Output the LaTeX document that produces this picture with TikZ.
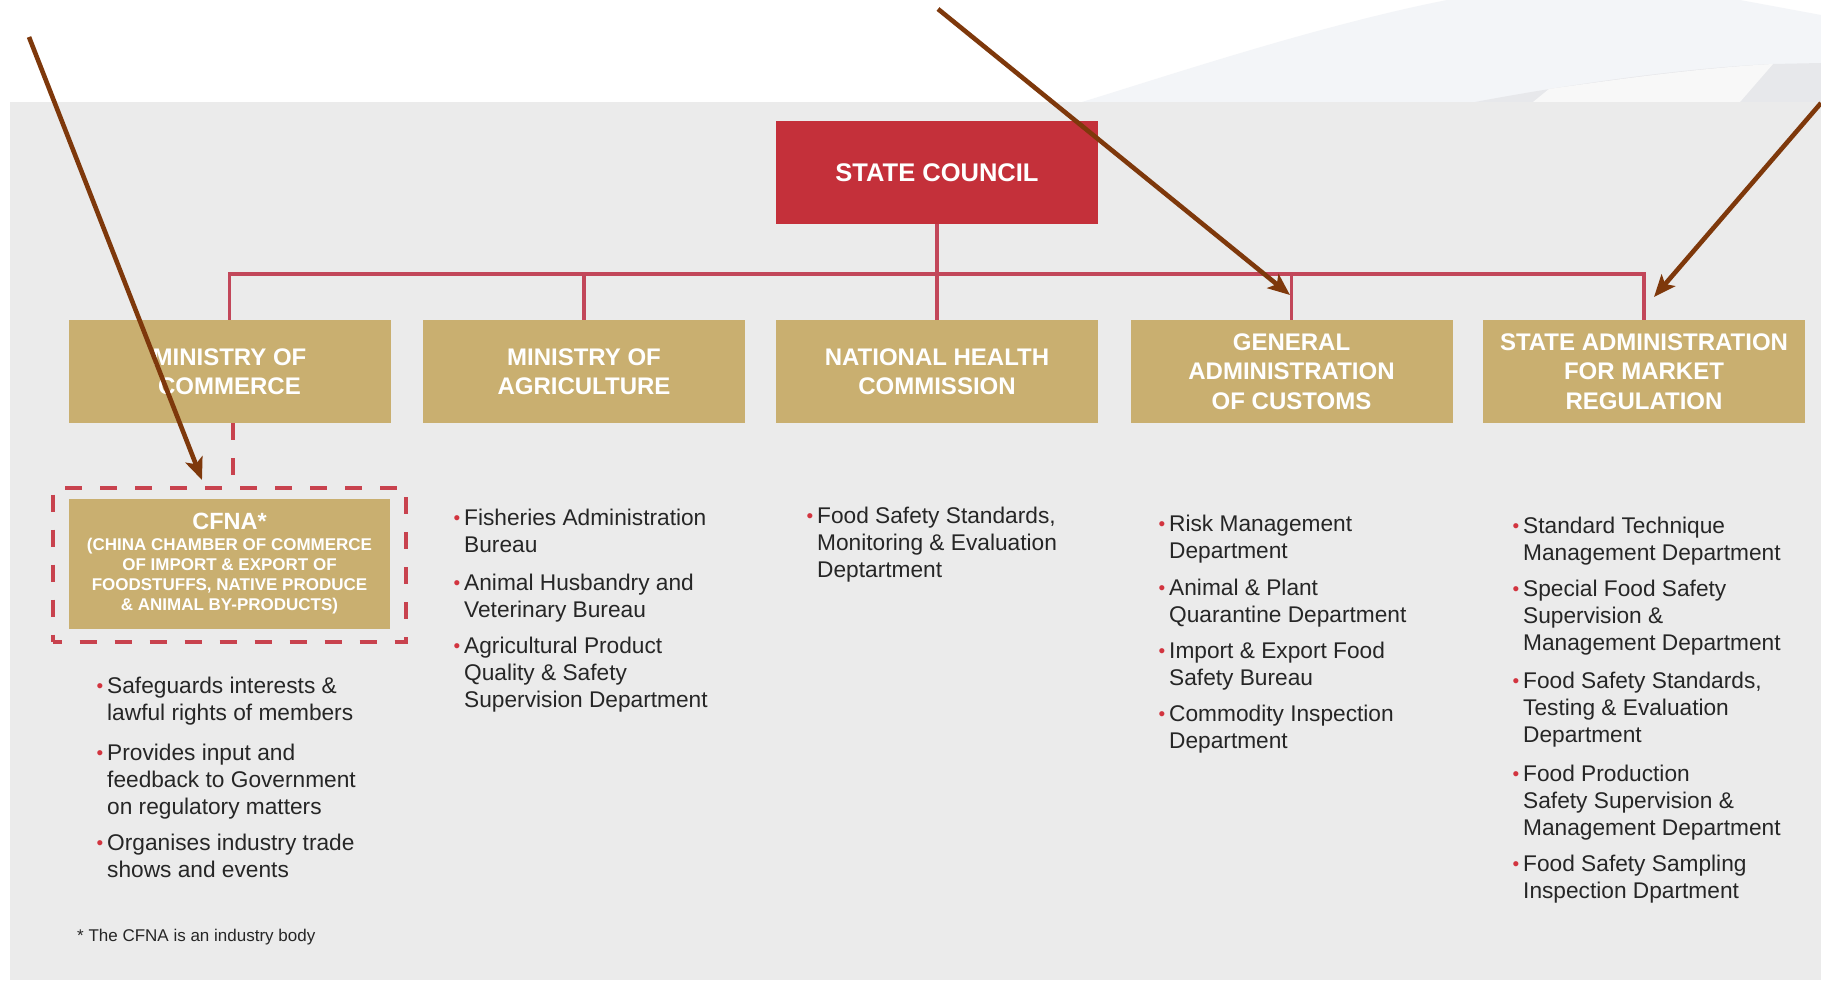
\documentclass[tikz,border=0pt]{standalone}
\usepackage{fontspec}
\setmainfont{Liberation Sans}
\usetikzlibrary{arrows.meta}
\definecolor{bg}{HTML}{EBEBEB}
\definecolor{scred}{HTML}{C4303A}
\definecolor{gold}{HTML}{C9AF70}
\definecolor{connc}{HTML}{C2475A}
\definecolor{framec}{HTML}{C8424E}
\definecolor{bulred}{HTML}{D2343F}
\definecolor{txt}{HTML}{262626}
\definecolor{brownarr}{HTML}{7E380B}
\definecolor{swoosh}{HTML}{F3F5F8}
\definecolor{swoosh2}{HTML}{E7E8EB}
\definecolor{band}{HTML}{F8F8F8}
\newcommand\bul{\rule{0pt}{20pt}\llap{\textcolor{bulred}{\fontsize{19}{19}\selectfont\raisebox{1pt}{•}}\hspace{4pt}}}
\tikzset{
  gbox/.style={fill=gold, minimum width=322pt, minimum height=103pt, inner sep=0pt, align=center, text=white, font=\bfseries\fontsize{24}{29.5}\selectfont},
  scbox/.style={fill=scred, minimum width=322pt, minimum height=103pt, inner sep=0pt, align=center, text=white, font=\bfseries\fontsize{25.5}{30}\selectfont},
  itm/.style={anchor=north west, inner sep=0pt, align=left, text=txt, font=\fontsize{22.7}{27}\selectfont},
  conn/.style={draw=connc, line width=3.2pt},
  dconn/.style={draw=framec, line width=4pt, dash pattern=on 17pt off 18pt},
  barrow/.style={draw=brownarr, line width=4.6pt, -{Stealth[length=22pt,width=18pt,inset=5pt]}}
}
\begin{document}
\begin{tikzpicture}[x=1pt,y=-1pt]
\useasboundingbox (0,0) rectangle (1821,1001);
\fill[white] (0,0) rectangle (1821,1001);
% top decorations
\fill[swoosh] (1082,102) .. controls (1170,75) and (1320,25) .. (1447,0) -- (1740,0) -- (1821,15) -- (1821,102) -- cycle;
\fill[swoosh2] (1475,102) .. controls (1560,86) and (1680,68) .. (1773,64) -- (1821,63) -- (1821,102) -- cycle;
\fill[band] (1533,102) -- (1549,89) .. controls (1620,79) and (1700,68) .. (1773,64) -- (1740,102) -- cycle;
% panel
\fill[bg] (10,102) rectangle (1821,980);

% boxes
\node[scbox] (sc) at (937,172.5) {STATE COUNCIL};
\node[gbox] (moc) at (229.5,371.5) {MINISTRY OF\\COMMERCE};
\node[gbox] (moa) at (584,371.5) {MINISTRY OF\\AGRICULTURE};
\node[gbox] (nhc) at (937,371.5) {NATIONAL HEALTH\\COMMISSION};
\node[gbox] (gac) at (1291.5,371.5) {GENERAL\\ADMINISTRATION\\OF CUSTOMS};
\node[gbox] (samr) at (1644,371.5) {STATE ADMINISTRATION\\FOR MARKET\\REGULATION};

% CFNA
\node[draw=framec, line width=4pt, dash pattern=on 17pt off 18pt, dash phase=8.5pt, minimum width=353pt, minimum height=154pt, inner sep=0pt] (cfnaf) at (229.5,565) {};
\node[fill=gold, minimum width=321pt, minimum height=130pt, inner sep=0pt, align=center, text=white, font=\bfseries\fontsize{17}{20}\selectfont] (cfna) at (229.5,564)
  {{\fontsize{23.5}{26}\selectfont CFNA*}\\[1pt](CHINA CHAMBER OF COMMERCE\\OF IMPORT \& EXPORT OF\\FOODSTUFFS, NATIVE PRODUCE\\\& ANIMAL BY-PRODUCTS)};

% connectors
\coordinate (busy) at (0,274);
\draw[conn] (sc.south) -- (sc.south |- busy);
\draw[conn] (moc.north) -- (moc.north |- busy) -- (samr.north |- busy) -- (samr.north);
\draw[conn] (moa.north) -- (moa.north |- busy);
\draw[conn] (nhc.north) -- (nhc.north |- busy);
\draw[conn] (gac.north) -- (gac.north |- busy);
\draw[dconn] ([xshift=3.5pt]moc.south) -- ([xshift=3.5pt]moc.south |- cfnaf.north);

% lists
\node[itm] (c1) at (107,673) {\bul Safeguards interests \&\\lawful rights of members};
\node[itm] (c2) at (107,740) {\bul Provides input and\\feedback to Government\\on regulatory matters};
\node[itm] (c3) at (107,830) {\bul Organises industry trade\\shows and events};

\node[itm] (a1) at (464,505) {\bul Fisheries Administration\\Bureau};
\node[itm] (a2) at (464,570) {\bul Animal Husbandry and\\Veterinary Bureau};
\node[itm] (a3) at (464,633) {\bul Agricultural Product\\Quality \& Safety\\Supervision Department};

\node[itm] (n1) at (817,503) {\bul Food Safety Standards,\\Monitoring \& Evaluation\\Deptartment};

\node[itm] (g1) at (1169,511) {\bul Risk Management\\Department};
\node[itm] (g2) at (1169,575) {\bul Animal \& Plant\\Quarantine Department};
\node[itm] (g3) at (1169,638) {\bul Import \& Export Food\\Safety Bureau};
\node[itm] (g4) at (1169,701) {\bul Commodity Inspection\\Department};

\node[itm] (s1) at (1523,513) {\bul Standard Technique\\Management Department};
\node[itm] (s2) at (1523,576) {\bul Special Food Safety\\Supervision \&\\Management Department};
\node[itm] (s3) at (1523,668) {\bul Food Safety Standards,\\Testing \& Evaluation\\Department};
\node[itm] (s4) at (1523,761) {\bul Food Production\\Safety Supervision \&\\Management Department};
\node[itm] (s5) at (1523,851) {\bul Food Safety Sampling\\Inspection Dpartment};

\node[anchor=base west, inner sep=0pt, text=txt, font=\fontsize{17}{20}\selectfont] (fn) at (77,941) {* The CFNA is an industry body};

% brown arrows
\coordinate (a1s) at (29,37);
\coordinate (a1e) at (202,480);
\coordinate (a2s) at (938,9);
\coordinate (a2e) at (1290,295);
\coordinate (a3s) at (1821,103);
\coordinate (a3e) at (1654,297);
\draw[barrow] (a1s) -- (a1e);
\draw[barrow] (a2s) -- (a2e);
\draw[barrow] (a3s) -- (a3e);
\end{tikzpicture}
\end{document}
